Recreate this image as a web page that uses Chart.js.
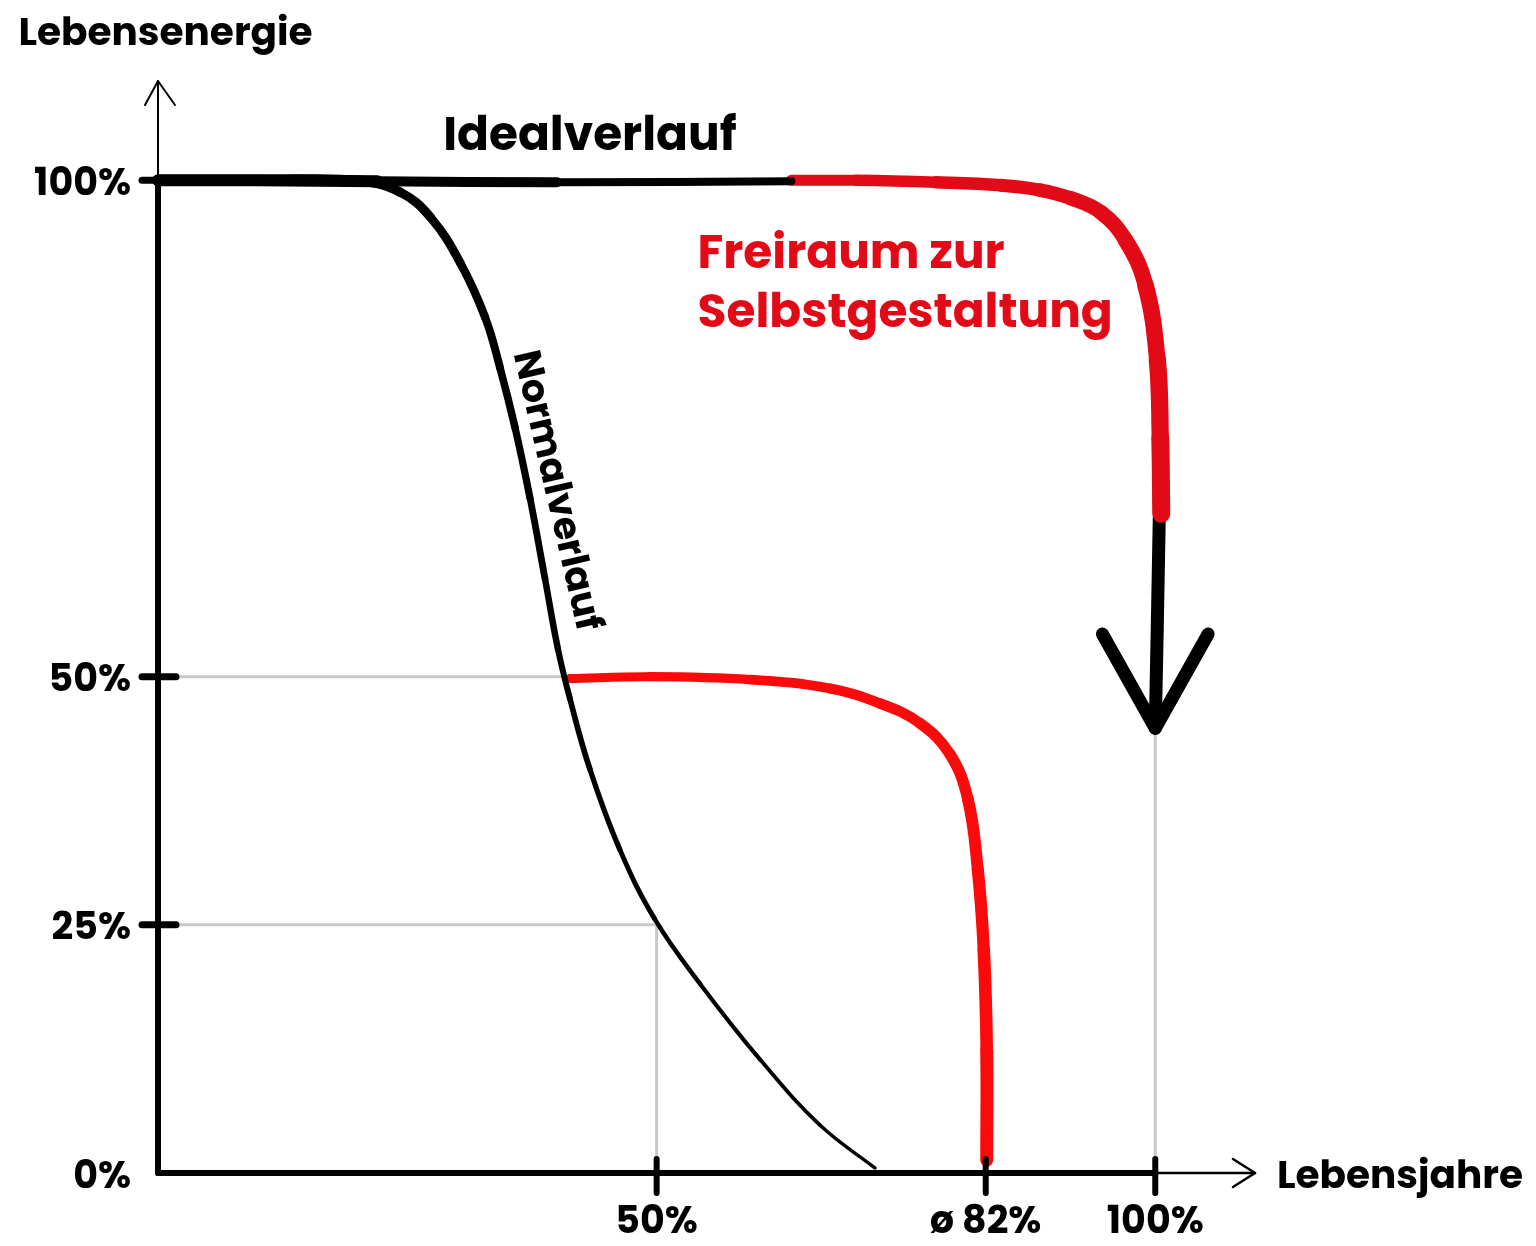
<!DOCTYPE html>
<html lang="de">
<head>
<meta charset="utf-8">
<title>Lebensenergie</title>
<script src="https://cdn.jsdelivr.net/npm/chart.js@4.4.0/dist/chart.umd.min.js"></script>
<style>
  html, body { margin: 0; padding: 0; background: #fff; }
  #wrap { width: 1536px; height: 1246px; position: relative; }
</style>
</head>
<body>
<div id="wrap"><canvas id="chart"></canvas></div>
<script>
// Achsen (Prozent der Lebensjahre / Lebensenergie)
const xTicks = [50, 83, 100];
const xTickLabels = ['50%', 'ø 82%', '100%'];
const yTicks = [0, 25, 50, 100];
const yTickLabels = ['0%', '25%', '50%', '100%'];

// Idealverlauf (schwarz, oben)
const idealX = [0, 10, 22, 40, 63.5];
const idealY = [100, 100, 99.9, 99.8, 99.9];

// Freiraum zur Selbstgestaltung (rot, oben)
const freiX = [63.5, 70, 78, 84.5, 88.5, 91.5, 94.5, 97, 99, 100.2, 100.5, 100.6];
const freiY = [100, 100, 99.8, 99.5, 99, 98.2, 96.8, 94, 89.5, 82, 74, 66.4];

// Pfeil nach unten
const arrowX = [100.4, 100.2, 100];
const arrowY = [66, 55, 44.8];
const headX = [94.7, 100, 105.3];
const headY = [54.3, 44.8, 54.3];

// Normalverlauf
const normalX = [0, 10, 20.3, 24.3, 27.3, 30.3, 32.8, 34.3, 35.8, 37.3, 38.8, 40.1, 41.3, 43.3, 46.3, 49.8, 54.4, 60.4, 66.4, 71.9];
const normalY = [100, 100, 99.9, 98.8, 96.3, 91.7, 86.2, 81.1, 75.1, 68, 59.9, 52.8, 47.8, 40.7, 32.6, 25.6, 19, 11.4, 4.8, 0.5];

// roter Verlauf ab 50%
const lowX = [41.3, 49.3, 59.4, 67.4, 72.4, 76.4, 79.4, 81.2, 82.2, 82.8, 83.1, 83.1];
const lowY = [49.8, 50, 49.7, 48.8, 47.3, 45.3, 42.2, 37.7, 30.6, 22.5, 12.4, 1.3];

// graue Hilfslinien
const guides = [
  [[0, 50], [40.8, 50]],
  [[0, 25], [50, 25]],
  [[50, 25], [50, 0]],
  [[100, 44.8], [100, 0]]
];

const FONT = '"Poppins", "Open Sans", sans-serif';
const RED = '#e20a17';
const RED2 = '#fa0a0a';

const pts = (xs, ys) => xs.map((x, i) => ({ x, y: ys[i] }));

const line = (data, color, width, extra) => Object.assign({
  data,
  showLine: true,
  borderColor: color,
  borderWidth: width,
  pointRadius: 0,
  borderCapStyle: 'round',
  borderJoinStyle: 'round',
  tension: 0.4,
  fill: false,
  clip: false
}, extra || {});

const datasets = [
  line(pts(normalX, normalY), '#000', 8, {
    order: 1,
    segment: { borderWidth: c => c.p0DataIndex < 2 ? 11 : Math.max(3, 9.5 - (c.p0DataIndex - 2) * 0.38) }
  }),
  line(pts(idealX, idealY), '#000', 8, {
    order: 1,
    segment: { borderWidth: c => c.p0DataIndex < 2 ? 12 : (c.p0DataIndex < 3 ? 10 : 8) }
  }),
  line(pts(freiX, freiY), RED, 12, {
    order: 1,
    segment: { borderWidth: c => 11 + c.p0DataIndex * 0.7 }
  }),
  line(pts(arrowX, arrowY), '#000', 13, { order: 1, tension: 0 }),
  line(pts(headX, headY), '#000', 13, { order: 1, tension: 0 }),
  line(pts(lowX, lowY), RED2, 11, {
    order: 1,
    segment: { borderWidth: c => 9 + c.p0DataIndex * 0.4 }
  })
];
guides.forEach(g => {
  datasets.push(line(g.map(p => ({ x: p[0], y: p[1] })), '#c8c8c8', 3, { order: 5, tension: 0 }));
});

// Achsen, Tickstriche und Beschriftungen
const sketchPlugin = {
  id: 'sketch',
  afterDatasetsDraw(chart) {
    const { ctx, scales: { x, y } } = chart;
    const X = v => x.getPixelForValue(v);
    const Y = v => y.getPixelForValue(v);
    ctx.save();
    ctx.strokeStyle = '#000';
    ctx.lineCap = 'round';
    ctx.lineJoin = 'round';

    const seg = (x1, y1, x2, y2, w) => {
      ctx.lineWidth = w;
      ctx.beginPath();
      ctx.moveTo(x1, y1);
      ctx.lineTo(x2, y2);
      ctx.stroke();
    };

    // y-Achse
    seg(X(0), Y(0), X(0), Y(100), 6);
    seg(X(0), Y(100), X(0), Y(110), 2);
    ctx.lineWidth = 2;
    ctx.beginPath();
    ctx.moveTo(X(0) - 13, Y(110) + 24);
    ctx.lineTo(X(0), Y(110));
    ctx.lineTo(X(0) + 17, Y(110) + 24);
    ctx.stroke();

    // x-Achse
    seg(X(0), Y(0), X(100), Y(0), 6);
    seg(X(100), Y(0), X(110), Y(0), 2.5);
    ctx.beginPath();
    ctx.moveTo(X(110) - 22, Y(0) - 14);
    ctx.lineTo(X(110), Y(0));
    ctx.lineTo(X(110) - 22, Y(0) + 14);
    ctx.stroke();

    // Tickstriche
    yTicks.filter(v => v > 0).forEach(v => seg(X(0) - 16, Y(v), X(0) + 18, Y(v), 7));
    xTicks.forEach(v => seg(X(v), Y(0) - 14, X(v), Y(0) + 20, 6));
    ctx.restore();
  },
  afterDraw(chart) {
    const { ctx, scales: { x, y } } = chart;
    const X = v => x.getPixelForValue(v);
    const Y = v => y.getPixelForValue(v);
    ctx.save();
    ctx.textBaseline = 'alphabetic';
    ctx.textAlign = 'left';

    ctx.fillStyle = '#000';
    ctx.font = `bold 39px ${FONT}`;
    ctx.fillText('Lebensenergie', X(-14), Y(113.6));
    ctx.fillText('Lebensjahre', X(112.2), Y(-1.5));

    ctx.font = `bold 47px ${FONT}`;
    ctx.fillText('Idealverlauf', X(28.6), Y(103));

    ctx.fillStyle = RED;
    ctx.fillText('Freiraum zur', X(54.1), Y(91.2));
    ctx.fillText('Selbstgestaltung', X(54.1), Y(85.2));

    ctx.fillStyle = '#000';
    ctx.font = `bold 38px ${FONT}`;
    ctx.translate(X(39.8), Y(68.7));
    ctx.rotate(77 * Math.PI / 180);
    ctx.textAlign = 'center';
    ctx.textBaseline = 'middle';
    ctx.fillText('Normalverlauf', 0, 0);
    ctx.restore();
  }
};

new Chart(document.getElementById('chart'), {
  type: 'scatter',
  data: { datasets },
  options: {
    responsive: true,
    maintainAspectRatio: false,
    animation: false,
    layout: { padding: { top: 81, right: 281, bottom: 0, left: 0 } },
    plugins: {
      legend: { display: false },
      tooltip: { enabled: false }
    },
    scales: {
      x: {
        type: 'linear',
        min: 0,
        max: 110,
        grid: { display: false, drawTicks: false },
        border: { display: false },
        afterFit: s => { s.height = 73; },
        afterBuildTicks: s => { s.ticks = xTicks.map(v => ({ value: v })); },
        ticks: {
          padding: 28,
          color: '#000',
          font: { family: FONT, size: 38, weight: 'bold' },
          maxRotation: 0,
          autoSkip: false,
          callback: (v, i) => xTickLabels[i]
        }
      },
      y: {
        type: 'linear',
        min: 0,
        max: 110,
        grid: { display: false, drawTicks: false },
        border: { display: false },
        afterFit: s => { s.width = 158; },
        afterBuildTicks: s => { s.ticks = yTicks.map(v => ({ value: v })); },
        ticks: {
          padding: 27,
          labelOffset: 5,
          color: '#000',
          font: { family: FONT, size: 38, weight: 'bold' },
          autoSkip: false,
          callback: (v, i) => yTickLabels[i]
        }
      }
    }
  },
  plugins: [sketchPlugin]
});
</script>
</body>
</html>
